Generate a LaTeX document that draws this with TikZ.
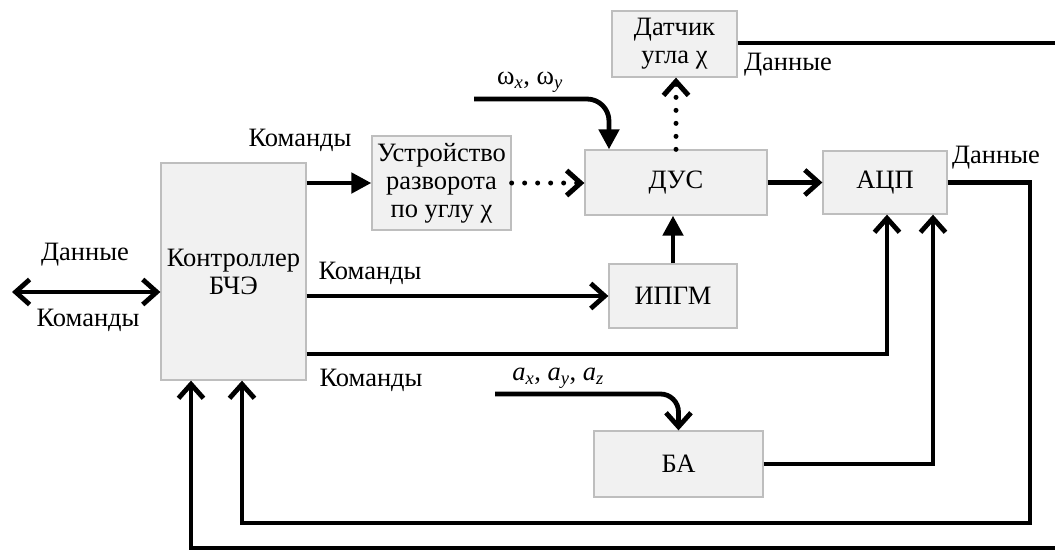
\documentclass[tikz,border=0pt]{standalone}
\usepackage{fontspec}
\setmainfont{Liberation Serif}
\usetikzlibrary{arrows.meta}
\definecolor{boxfill}{RGB}{241,241,241}
\definecolor{boxborder}{RGB}{190,190,190}
\newcommand\fs{\fontsize{26.5pt}{28pt}\selectfont}
\begin{document}
\begin{tikzpicture}[x=1pt,y=-1pt,
  blk/.style={draw=boxborder, fill=boxfill, line width=1.3pt, inner sep=1pt, align=center, font=\fs},
  lbl/.style={inner sep=0pt, font=\fs},
  con/.style={line width=4.8pt},
  barb/.style={-{Straight Barb[length=14pt,width=25pt]}},
  tri/.style={-{Triangle[length=20pt,width=20pt]}},
  dotline/.style={line width=5pt, line cap=round, dash pattern=on 0pt off 13pt}]
\useasboundingbox (0,0) rectangle (1055,550);
% boxes
\node[blk, minimum width=145pt, minimum height=217pt] (ctrl) at (233.5,271.5) {Контроллер\\БЧЭ};
\node[blk, minimum width=139pt, minimum height=94pt] (ust) at (441.5,183) {Устройство\\разворота\\по углу χ};
\node[blk, minimum width=182pt, minimum height=65pt] (dus) at (676,182.5) {ДУС};
\node[blk, minimum width=124pt, minimum height=63pt] (adc) at (885,182.5) {АЦП};
\node[blk, minimum width=128pt, minimum height=64pt] (ipgm) at (673,296) {ИПГМ};
\node[blk, minimum width=125pt, minimum height=66pt] (dat) at (674.5,44) {Датчик\\угла χ};
\node[blk, minimum width=169pt, minimum height=66pt] (ba) at (678.5,464) {БА};
% free ends
\coordinate (l0) at (12,292);
\coordinate (w0) at (474,99);
\coordinate (a0) at (495,394);
\coordinate (e1) at (1055,43);
\coordinate (e2) at (1055,548);
\coordinate (r1) at (1030,523);
\coordinate (c3) at ([yshift=-82.5pt]ctrl.east);
% connectors
\draw[con,{Straight Barb[length=14pt,width=25pt]}-{Straight Barb[length=14pt,width=25pt]}] (l0) -- (l0 -| ctrl.west);
\draw[con,tri] (ctrl.east |- ust.west) -- (ust.west);
\draw[con,barb] (ctrl.east |- ipgm.west) -- (ipgm.west);
\draw[con,barb] (c3) -| ([xshift=2pt]adc.south);
\draw[dotline,barb] (ust.east) -- (ust.east -| dus.west);
\draw[dotline,barb] (dus.north) -- (dus.north |- dat.south);
\draw[con,tri] (ipgm.north) -- (ipgm.north |- dus.south);
\draw[con,barb] (dus.east) -- (dus.east -| adc.west);
\draw[con,tri,rounded corners=22pt] (w0) -| ([xshift=-67pt]dus.north);
\draw[con,barb,rounded corners=18pt] (a0) -| (ba.north);
\draw[con,barb] (ba.east) -| ([xshift=48pt]adc.south);
\draw[con,barb] (adc.east) -| (r1) -| ([xshift=8.5pt]ctrl.south);
\draw[con,barb] (e2) -| ([xshift=-42.5pt]ctrl.south);
\draw[con] (dat.east |- e1) -- (e1);
% labels
\node[lbl] (t1) at (300,140) {Команды};
\node[lbl] (t2) at (370,273) {Команды};
\node[lbl] (t3) at (371,380) {Команды};
\node[lbl] (t4) at (85,255) {Данные};
\node[lbl] (t5) at (88,320) {Команды};
\node[lbl] (t6) at (996,158) {Данные};
\node[lbl] (t7) at (788,65) {Данные};
\node[lbl] (t8) at (530,82) {ω\textsubscript{\textit{x}}, ω\textsubscript{\textit{y}}};
\node[lbl] (t9) at (558,378) {\textit{a}\textsubscript{\textit{x}}, \textit{a}\textsubscript{\textit{y}}, \textit{a}\textsubscript{\textit{z}}};
\end{tikzpicture}
\end{document}
